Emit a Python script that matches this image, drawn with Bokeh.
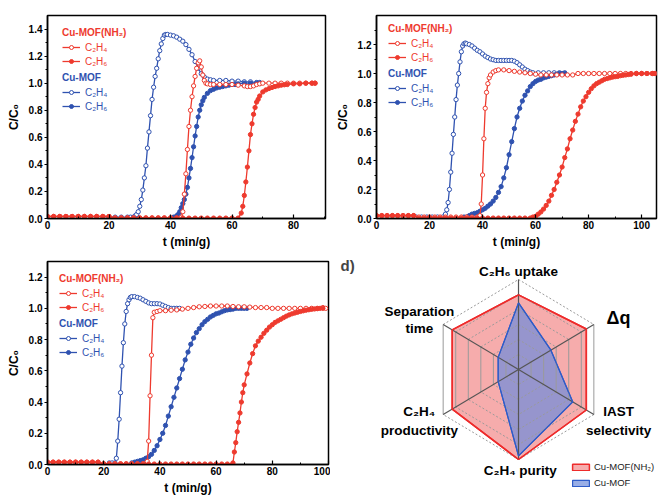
import math
from bokeh.plotting import figure
from bokeh.models import Range1d, SingleIntervalTicker, NumeralTickFormatter, Label, Legend, LegendItem
from bokeh.layouts import column, row
from bokeh.embed import file_html
from bokeh.resources import INLINE

RED = "#ee3a2e"
BLUE = "#2f52b0"
FONT = "Liberation Sans"

# ---------------- panel a ----------------
a_nh2_c2h4_t = [0, 2, 4, 6, 8, 10, 12, 14, 16, 18, 20, 22, 24, 26, 28, 30, 32, 34, 36, 38, 40, 42,
                43.5, 44, 44.5, 45, 45.5, 46, 46.5, 47, 47.5, 48, 48.5, 49, 49.5, 50, 50.5, 51, 51.5,
                52, 53, 54, 56, 58, 60, 62, 64, 65, 66, 67, 68, 69, 70, 72, 74, 76, 78, 80, 82, 84, 86, 87]
a_nh2_c2h4_y = [0.015, 0.015, 0.015, 0.015, 0.015, 0.015, 0.015, 0.015, 0.015, 0.015, 0.015,
                0.005, 0.005, 0.005, 0.005, 0.005, 0.005, 0.005, 0.005, 0.005, 0.005, 0.005,
                0.01, 0.05, 0.18, 0.33, 0.51, 0.68, 0.8, 0.9, 0.98, 1.05, 1.11, 1.15, 1.165, 1.12, 1.06, 1.02, 1.0,
                0.995, 0.99, 0.99, 0.99, 0.99, 0.99, 0.985, 0.98, 0.975, 0.975, 0.98, 0.99, 0.995,
                1.0, 1.0, 1.0, 1.0, 1.0, 1.0, 1.0, 1.0, 1.0, 1.0]
a_nh2_c2h6_t = [0, 2, 4, 6, 8, 10, 12, 14, 16, 18, 20, 22, 24, 26, 28, 30, 32, 34, 36, 38, 40, 42, 44, 46,
                48, 50, 52, 54, 56, 58, 60, 62,
                63, 63.5, 64, 64.5, 65, 65.5, 66, 66.5, 67, 67.5, 68, 68.5, 69,
                70, 71, 72, 73, 74, 75, 76, 77, 78, 80, 82, 84, 86, 87]
a_nh2_c2h6_y = [0.015, 0.015, 0.015, 0.015, 0.015, 0.015, 0.015, 0.015, 0.015, 0.015, 0.015,
                0.003, 0.003, 0.003, 0.003, 0.003, 0.003, 0.003, 0.003, 0.003, 0.003, 0.003,
                0.003, 0.003, 0.003, 0.003, 0.003, 0.003, 0.003, 0.003, 0.003, 0.003,
                0.04, 0.09, 0.17, 0.27, 0.38, 0.5, 0.62, 0.7, 0.77, 0.82, 0.86, 0.88, 0.905,
                0.935, 0.95, 0.96, 0.968, 0.975, 0.98, 0.985, 0.988, 0.99, 0.995, 0.995, 1.0, 1.0, 1.0]
a_mof_c2h4_t = [20, 22, 24, 26, 27, 28, 28.5, 29, 29.5, 30, 30.5, 31, 31.5, 32, 32.5, 33, 33.5, 34,
                34.5, 35, 35.5, 36, 36.5, 37, 37.5, 38, 38.5, 39, 40, 41, 42, 43, 44, 45, 46, 47, 48,
                49, 50, 51, 52, 53, 54, 56, 58, 60, 62, 64, 66, 68, 69]
a_mof_c2h4_y = [0.01, 0.01, 0.01, 0.01, 0.01, 0.01, 0.02, 0.03, 0.05, 0.09, 0.14, 0.21, 0.3, 0.39,
                0.52, 0.64, 0.76, 0.88, 0.97, 1.05, 1.11, 1.18, 1.24, 1.29, 1.33, 1.355, 1.36, 1.36,
                1.355, 1.35, 1.34, 1.325, 1.31, 1.285, 1.25, 1.21, 1.16, 1.11, 1.07, 1.045, 1.03,
                1.025, 1.02, 1.02, 1.02, 1.015, 1.015, 1.01, 1.01, 1.005, 1.005]
a_mof_c2h6_t = [41, 42, 42.5, 43, 43.5, 44, 44.5, 45, 45.5, 46, 46.5, 47, 47.5, 48, 48.5, 49, 49.5,
                50, 50.5, 51, 52, 53, 54, 55, 56, 57, 58, 59, 60, 61, 62, 64, 66, 68, 69]
a_mof_c2h6_y = [0.01, 0.02, 0.03, 0.05, 0.08, 0.11, 0.14, 0.18, 0.23, 0.3, 0.37, 0.45, 0.53, 0.61,
                0.68, 0.75, 0.8, 0.84, 0.87, 0.895, 0.925, 0.945, 0.955, 0.965, 0.97, 0.975, 0.98,
                0.985, 0.99, 0.99, 0.995, 1.0, 1.0, 1.0, 1.0]

# ---------------- panel b ----------------
b_nh2_c2h4_t = [0, 2, 4, 6, 8, 10, 12, 14, 16, 18, 20, 22, 24, 26, 28, 30, 32, 34, 36, 38,
                39, 39.5, 40, 40.5, 41, 41.5, 42, 42.5, 43, 44, 45, 46, 48, 50, 52, 54, 56, 58,
                60, 62, 64, 66, 68, 70, 72, 74, 76, 78, 80, 82, 84, 86, 88, 90, 92, 94, 96, 98, 100,
                102, 104, 105]
b_nh2_c2h4_y = [0.02, 0.02, 0.02, 0.02, 0.02, 0.02, 0.02, 0.02,
                0.01, 0.01, 0.01, 0.01, 0.01, 0.01, 0.01, 0.01, 0.01, 0.01, 0.01, 0.01,
                0.02, 0.1, 0.3, 0.55, 0.76, 0.87, 0.93, 0.97, 0.99, 1.01, 1.02, 1.025, 1.025, 1.02,
                1.015, 1.01, 1.005, 1.0,
                0.995, 0.99, 0.99, 0.99, 0.99, 0.99, 0.99, 0.99, 1.0, 1.0, 1.0, 1.0, 1.0, 1.0, 1.0,
                1.0, 1.0, 1.0, 1.0, 1.0, 1.0, 1.0, 1.0, 1.0]
b_nh2_c2h6_t = [0, 2, 4, 6, 8, 10, 12, 14, 16, 18, 20, 22, 24, 26, 28, 30, 32, 34, 36, 38, 40, 42,
                44, 46, 48, 50, 52, 54, 56, 58,
                59, 60, 61, 62, 63, 64, 65, 66, 67, 68, 69, 70, 71, 72, 73, 74, 75, 76, 77, 78, 79,
                80, 81, 82, 83, 84, 85, 86, 87, 88, 89, 90, 91, 92, 93, 94, 95, 96,
                98, 100, 102, 104, 105]
b_nh2_c2h6_y = [0.02, 0.02, 0.02, 0.02, 0.02, 0.02, 0.02, 0.02,
                0.003, 0.003, 0.003, 0.003, 0.003, 0.003, 0.003, 0.003, 0.003, 0.003, 0.003,
                0.003, 0.003, 0.003, 0.003, 0.003, 0.003, 0.003, 0.003, 0.003, 0.003, 0.003,
                0.01, 0.015, 0.03, 0.045, 0.065, 0.09, 0.12, 0.16, 0.2, 0.25, 0.3, 0.355, 0.42,
                0.48, 0.55, 0.61, 0.67, 0.72, 0.77, 0.81, 0.84, 0.87, 0.895, 0.915, 0.93, 0.94,
                0.95, 0.96, 0.965, 0.97, 0.975, 0.978, 0.98, 0.985, 0.988, 0.99, 0.993, 0.995,
                1.0, 1.0, 1.0, 1.0, 1.0]
b_mof_c2h4_t = [15, 17, 19, 21, 23, 25,
                26, 26.5, 27, 27.5, 28, 28.5, 29, 29.5, 30, 30.5, 31, 31.5, 32, 32.5, 33, 33.5, 34,
                35, 36, 37, 38, 39, 40, 41, 42, 43, 44, 45, 46, 47, 48, 49, 50, 51, 52, 53, 54, 55,
                56, 57, 58, 59, 61, 63, 65, 67, 69, 71]
b_mof_c2h4_y = [0.01, 0.01, 0.01, 0.01, 0.01, 0.01,
                0.03, 0.06, 0.11, 0.2, 0.32, 0.45, 0.58, 0.7, 0.82, 0.92, 1.0, 1.08, 1.15, 1.19,
                1.205, 1.21, 1.205,
                1.2, 1.19, 1.175, 1.16, 1.15, 1.135, 1.12, 1.11, 1.1, 1.095, 1.09, 1.09, 1.09, 1.09,
                1.09, 1.09, 1.09, 1.085, 1.075, 1.06, 1.045, 1.03, 1.02, 1.01, 1.005,
                1.005, 1.005, 1.005, 1.005, 1.005, 1.005]
b_mof_c2h6_t = [33, 34, 35, 36, 37, 38, 39, 40, 41, 42, 43, 44, 45, 46, 47, 48, 49, 50, 51, 52,
                53, 54, 55, 56, 57, 58, 59, 60, 61, 62, 63, 64, 65, 66, 67, 68, 69, 70, 71]
b_mof_c2h6_y = [0.01, 0.01, 0.02, 0.03, 0.035, 0.04, 0.05, 0.06, 0.07, 0.085, 0.1, 0.12, 0.145,
                0.18, 0.22, 0.28, 0.35, 0.44, 0.53, 0.62, 0.7, 0.76, 0.81, 0.85, 0.88, 0.91, 0.93,
                0.945, 0.955, 0.96, 0.97, 0.975, 0.98, 0.985, 0.99, 0.995, 1.0, 1.0, 1.0]

# ---------------- panel c ----------------
c_nh2_c2h4_t = [0, 2, 4, 6, 8, 10, 12, 14, 16, 18, 20, 22, 24, 26, 28, 30, 32, 34,
                35.5, 36, 36.5, 37, 37.5, 38, 39,
                40, 42, 44, 46, 48, 50, 52, 54, 56, 58, 60, 62, 64, 66, 68, 70, 72, 74, 76, 78,
                80, 82, 84, 86, 88, 90, 92, 94, 96, 98, 99]
c_nh2_c2h4_y = [0.015, 0.015, 0.015, 0.015, 0.015, 0.015, 0.015, 0.015, 0.015, 0.015,
                0.005, 0.005, 0.005, 0.005, 0.005, 0.005, 0.005, 0.005,
                0.02, 0.15, 0.44, 0.7, 0.94, 0.975, 0.98,
                0.985, 0.985, 0.988, 0.99, 0.995, 1.0, 1.005, 1.01, 1.012, 1.015, 1.015, 1.015,
                1.015, 1.012, 1.01, 1.01, 1.008, 1.005, 1.005, 1.005, 1.0, 1.0, 1.0, 1.0, 1.0,
                1.0, 1.0, 1.0, 1.0, 1.005, 1.0]
c_nh2_c2h6_t = [0, 2, 4, 6, 8, 10, 12, 14, 16, 18, 20, 22, 24, 26, 28, 30, 32, 34, 36, 38, 40, 42,
                44, 46, 48, 50, 52, 54, 56, 58, 60, 62, 64,
                66, 66.5, 67, 67.5, 68, 68.5, 69, 69.5, 70,
                71, 72, 73, 74, 75, 76, 77, 78, 79, 80, 81, 82, 83, 84, 85, 86, 87, 88, 89, 90, 91,
                92, 93, 94, 95, 96, 97, 98]
c_nh2_c2h6_y = [0.015, 0.015, 0.015, 0.015, 0.015, 0.015, 0.015, 0.015, 0.015, 0.015,
                0.003, 0.003, 0.003, 0.003, 0.003, 0.003, 0.003, 0.003, 0.003, 0.003, 0.003,
                0.003, 0.003, 0.003, 0.003, 0.003, 0.003, 0.003, 0.003, 0.003, 0.003, 0.003, 0.003,
                0.01, 0.08, 0.14, 0.21, 0.27, 0.33, 0.4, 0.46, 0.51,
                0.58, 0.65, 0.71, 0.76, 0.79, 0.815, 0.84, 0.86, 0.88, 0.895, 0.91, 0.92, 0.93,
                0.94, 0.95, 0.958, 0.965, 0.97, 0.975, 0.98, 0.984, 0.988, 0.991, 0.994, 0.996,
                0.998, 1.0, 1.0]
c_mof_c2h4_t = [22, 23, 24, 24.5, 25, 25.5, 26, 26.5, 27, 27.5, 28, 28.5, 29, 29.5, 30,
                31, 32, 33, 34, 35, 36, 37, 38, 39, 40, 41, 42, 43, 44, 45, 46, 47]
c_mof_c2h4_y = [0.01, 0.01, 0.01, 0.04, 0.15, 0.29, 0.46, 0.63, 0.78, 0.9, 0.98, 1.03, 1.055, 1.07,
                1.075, 1.075, 1.07, 1.065, 1.055, 1.045, 1.035, 1.03, 1.03, 1.03, 1.028, 1.02,
                1.012, 1.005, 1.0, 1.0, 1.0, 1.0]
c_mof_c2h6_t = [30, 31, 32, 33, 34, 35, 36, 37, 38, 39, 40, 41, 42, 43, 44, 45, 46, 47, 48, 49,
                50, 51, 52, 53, 54, 55, 56, 57, 58, 59, 60, 61, 62, 63, 64, 65, 66, 67, 68, 69, 70, 71]
c_mof_c2h6_y = [0.01, 0.015, 0.02, 0.025, 0.03, 0.04, 0.05, 0.065, 0.09, 0.12, 0.16, 0.2, 0.25,
                0.31, 0.37, 0.43, 0.49, 0.55, 0.61, 0.67, 0.72, 0.77, 0.81, 0.845, 0.87, 0.895,
                0.915, 0.93, 0.945, 0.955, 0.965, 0.97, 0.978, 0.985, 0.99, 0.992, 0.995, 1.0, 1.0,
                1.0, 1.0, 1.0]

# ---------------- panel d (radar) ----------------
radar_axes = ["C₂H₆ uptake", "Δq", "IAST selectivity", "C₂H₄ purity", "C₂H₄ productivity", "Separation time"]
radar_angles_deg = [90, 30, -30, -90, -150, 150]
radar_nh2 = [0.83, 0.90, 0.90, 1.00, 0.88, 0.88]
radar_mof = [0.74, 0.43, 0.72, 0.96, 0.27, 0.27]
radar_levels = [1 / 6, 2 / 6, 3 / 6, 4 / 6, 5 / 6, 1.0]

for nm in list(globals()):
    if nm.endswith("_t") and nm[:-2] + "_y" in globals():
        if len(globals()[nm]) != len(globals()[nm[:-2] + "_y"]):
            raise ValueError(f"length mismatch {nm}")


def base_panel(width, height, bl, br, bt, bb, xmax, ymax):
    p = figure(width=width, height=height, x_range=Range1d(0, xmax), y_range=Range1d(0, ymax),
               toolbar_location=None, output_backend="svg",
               min_border_left=bl, min_border_right=br, min_border_top=bt, min_border_bottom=bb)
    p.grid.visible = False
    p.outline_line_color = "black"
    p.outline_line_width = 1.5
    p.xaxis.ticker = SingleIntervalTicker(interval=20, num_minor_ticks=2)
    p.yaxis.ticker = SingleIntervalTicker(interval=0.2, num_minor_ticks=2)
    p.yaxis.formatter = NumeralTickFormatter(format="0.0")
    for ax in (p.xaxis[0], p.yaxis[0]):
        ax.axis_line_width = 1.5
        ax.major_tick_line_width = 1.2
        ax.minor_tick_line_width = 1
        ax.major_label_text_font = FONT
        ax.major_label_text_font_style = "bold"
        ax.major_label_text_font_size = "10px"
        ax.major_label_text_color = "black"
        ax.axis_label_text_font = FONT
        ax.axis_label_text_font_style = "bold"
        ax.axis_label_text_font_size = "12px"
        ax.axis_label_text_color = "black"
        ax.major_label_standoff = 2
        ax.axis_label_standoff = 3
    p.xaxis.major_tick_in = 4
    p.xaxis.major_tick_out = 0
    p.xaxis.minor_tick_in = 2
    p.xaxis.minor_tick_out = 0
    p.yaxis.major_tick_in = 0
    p.yaxis.major_tick_out = 3
    p.yaxis.minor_tick_in = 0
    p.yaxis.minor_tick_out = 2
    p.yaxis.axis_label_standoff = 5
    p.xaxis.axis_label = "t (min/g)"
    p.yaxis.axis_label = "C/C₀"
    return p


def add_series(p, t, y, color, filled):
    ln = p.line(t, y, line_color=color, line_width=1.3)
    sc = p.scatter(t, y, marker="circle", size=4.3, line_color=color, line_width=1,
                   fill_color=color if filled else "white")
    return [ln, sc]


def add_legends(p, nh2, mof, vx, vy1, vy2):
    for title, items, color, vy in (("Cu-MOF(NH₂)", nh2, RED, vy1), ("Cu-MOF", mof, BLUE, vy2)):
        leg = Legend(items=[LegendItem(label="C₂H₄", renderers=items[0]),
                            LegendItem(label="C₂H₆", renderers=items[1])],
                     title=title, location=(vx, vy), orientation="vertical",
                     padding=0, margin=0, spacing=2, label_standoff=5,
                     glyph_width=18, glyph_height=10, label_height=12,
                     label_text_font=FONT, label_text_font_size="10px", label_text_color=color,
                     title_text_font=FONT, title_text_font_size="10px", title_text_font_style="bold",
                     title_text_color=color, title_standoff=3,
                     background_fill_alpha=0, border_line_alpha=0)
        p.add_layout(leg)


def add_letter(p, text, x, y):
    p.add_layout(Label(x=x, y=y, x_units="screen", y_units="screen", text=text,
                       text_font=FONT, text_font_style="bold", text_font_size="15px",
                       text_baseline="middle", text_align="left"))


def breakthrough(width, height, bl, br, bt, bb, xmax, ymax, data, letter, letter_xy, leg):
    p = base_panel(width, height, bl, br, bt, bb, xmax, ymax)
    (m4t, m4y), (m6t, m6y), (n4t, n4y), (n6t, n6y) = data
    mof4 = add_series(p, m4t, m4y, BLUE, False)
    mof6 = add_series(p, m6t, m6y, BLUE, True)
    nh4 = add_series(p, n4t, n4y, RED, False)
    nh6 = add_series(p, n6t, n6y, RED, True)
    add_legends(p, (nh4, nh6), (mof4, mof6), *leg)
    add_letter(p, letter, *letter_xy)
    return p


pa = breakthrough(330, 251, 47, 5, 15, 30, 90.4, 1.5,
                  [(a_mof_c2h4_t, a_mof_c2h4_y), (a_mof_c2h6_t, a_mof_c2h6_y),
                   (a_nh2_c2h4_t, a_nh2_c2h4_y), (a_nh2_c2h6_t, a_nh2_c2h6_y)],
                  "a)", (-37, 201.5), (15, 151, 106))
pb = breakthrough(328, 251, 46, 2, 15, 30, 105.6, 1.4,
                  [(b_mof_c2h4_t, b_mof_c2h4_y), (b_mof_c2h6_t, b_mof_c2h6_y),
                   (b_nh2_c2h4_t, b_nh2_c2h4_y), (b_nh2_c2h6_t, b_nh2_c2h6_y)],
                  "b)", (-40, 201.5), (12, 155, 110))
pc = breakthrough(330, 246, 47, 2, 10, 30, 100, 1.3,
                  [(c_mof_c2h4_t, c_mof_c2h4_y), (c_mof_c2h6_t, c_mof_c2h6_y),
                   (c_nh2_c2h4_t, c_nh2_c2h4_y), (c_nh2_c2h6_t, c_nh2_c2h6_y)],
                  "c)", (-37, 200), (12, 151, 106))

# ---------------- radar figure ----------------
# full-canvas frame: 328 x 246 px, centre at 188 px from left, 118 px from top
pd_ = figure(width=328, height=246, x_range=Range1d(-2.161, 1.609), y_range=Range1d(-1.422, 1.311),
             x_axis_location=None, y_axis_location=None, toolbar_location=None,
             output_backend="svg", min_border=0)
pd_.grid.visible = False
pd_.outline_line_color = None

ang = [math.radians(a) for a in radar_angles_deg]
rx = [v * math.cos(a) for v, a in zip(radar_nh2, ang)]
ry = [v * math.sin(a) for v, a in zip(radar_nh2, ang)]
bx = [v * math.cos(a) for v, a in zip(radar_mof, ang)]
by = [v * math.sin(a) for v, a in zip(radar_mof, ang)]

red_patch = pd_.patch(rx, ry, fill_color="#ee5a5a", fill_alpha=0.5, line_color="#ee2b2b", line_width=1.5)
blue_patch = pd_.patch(bx, by, fill_color="#6e8cdc", fill_alpha=0.7, line_color="#2f5cc8", line_width=1.2)

sl_x, sl_y, vt_x, vt_y = [], [], [], []
for lv in radar_levels:
    gx = [lv * math.cos(a) for a in ang]
    gy = [lv * math.sin(a) for a in ang]
    for i in range(6):
        j = (i + 1) % 6
        if abs(gx[i] - gx[j]) < 1e-9:
            vt_x.append([gx[i], gx[j]])
            vt_y.append([gy[i], gy[j]])
        else:
            sl_x.append([gx[i], gx[j]])
            sl_y.append([gy[i], gy[j]])
pd_.multi_line(sl_x, sl_y, line_color="#9a9a9a", line_width=1, line_dash="2 2")
pd_.multi_line(vt_x, vt_y, line_color="#9a9a9a", line_width=1)
pd_.multi_line([[0, math.cos(a)] for a in ang], [[0, math.sin(a)] for a in ang],
               line_color="#555555", line_width=1.2)
pd_.patch(rx, ry, fill_alpha=0, line_color="#ee2b2b", line_width=1.5)
pd_.patch(bx, by, fill_alpha=0, line_color="#2f5cc8", line_width=1.2)


def rlabel(text, x, y, size="13.5px"):
    pd_.add_layout(Label(x=x, y=y, text=text, text_font=FONT, text_font_style="bold",
                         text_font_size=size, text_align="center", text_baseline="middle",
                         text_color="black"))


rlabel("C₂H₆ uptake", 0.0, 1.09)
rlabel("Δq", 1.15, 0.57, "18px")
rlabel("IAST", 1.15, -0.47)
rlabel("selectivity", 1.15, -0.68)
rlabel("C₂H₄ purity", 0.02, -1.12)
rlabel("C₂H₄", -1.14, -0.47)
rlabel("productivity", -1.14, -0.68)
rlabel("Separation", -1.14, 0.64)
rlabel("time", -1.14, 0.45)

pd_.add_layout(Label(x=10, y=232, x_units="screen", y_units="screen", text="d)",
                     text_font=FONT, text_font_style="bold", text_font_size="15px",
                     text_baseline="middle", text_align="left"))

rleg = Legend(items=[LegendItem(label="Cu-MOF(NH₂)", renderers=[red_patch]),
                     LegendItem(label="Cu-MOF", renderers=[blue_patch])],
              location=(240, 9), orientation="vertical", padding=0, margin=0, spacing=5,
              label_standoff=3, glyph_width=21, glyph_height=8, label_height=11,
              label_text_font=FONT, label_text_font_size="9.5px", label_text_color="#222222",
              background_fill_alpha=0, border_line_alpha=0)
pd_.add_layout(rleg)

layout = column(row(pa, pb), row(pc, column(pd_)))
open("out.html", "w").write(file_html(layout, INLINE))
